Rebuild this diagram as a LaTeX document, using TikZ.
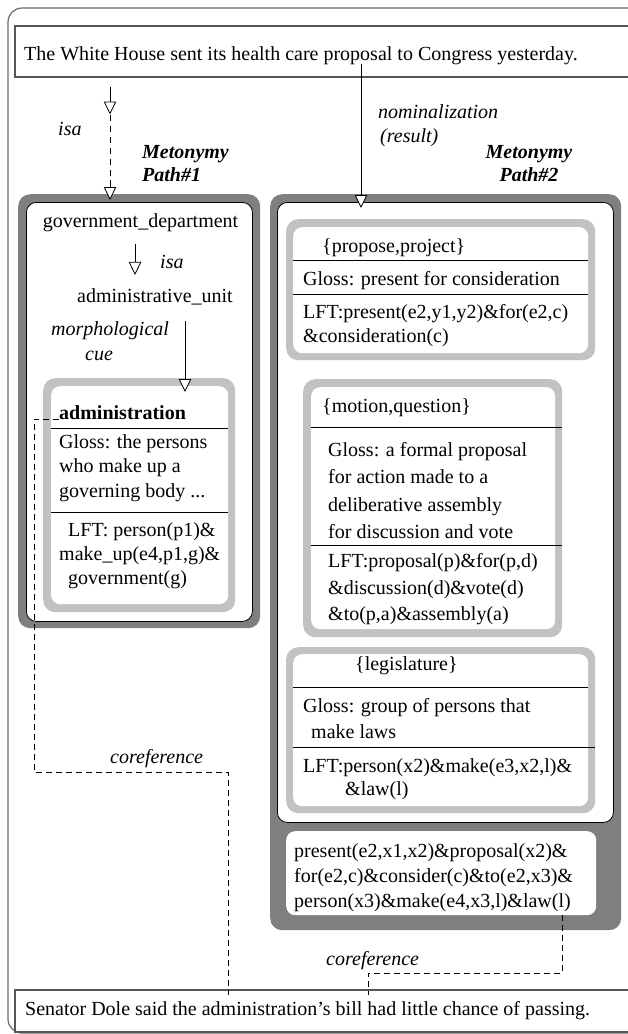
\documentclass[tikz,border=0pt]{standalone}
\usepackage{fontspec}
\setmainfont{Liberation Serif}
\usetikzlibrary{arrows.meta,calc,positioning}
\definecolor{rimdark}{HTML}{7F7F7F}
\definecolor{rimlight}{HTML}{C2C2C2}
\definecolor{framegray}{HTML}{6A6A6A}
\tikzset{%
	outerframe/.style = {draw=framegray, line width=1.2pt, rounded corners=14pt},
	sentbox/.style    = {draw=framegray!80!black, line width=1.5pt, anchor=north west, inner sep=0pt},
	darkrim/.style    = {fill=rimdark, rounded corners=12pt, anchor=north west, inner sep=0pt},
	lightrim/.style   = {fill=rimlight, rounded corners=12pt, anchor=north west, inner sep=0pt},
	pane/.style       = {fill=white, draw=black, line width=0.8pt, rounded corners=10pt, anchor=north west, inner sep=0pt},
	card/.style       = {fill=white, rounded corners=9pt, anchor=north west, inner sep=0pt},
	txt/.style        = {anchor=base west, inner sep=0pt},
	textblock/.style  = {anchor=north west, inner sep=0pt, align=left, font=\fontsize{20}{#1}\selectfont},
	textblock/.default = 24,
	lbl/.style        = {anchor=base west, inner sep=0pt, font=\fontsize{20}{24}\selectfont\itshape},
	metlbl/.style     = {anchor=north west, inner sep=0pt, font=\fontsize{20}{23}\selectfont\bfseries\itshape},
	divider/.style    = {line width=0.8pt},
	isaarrow/.style   = {line width=0.8pt, -{Triangle[fill=white, length=13pt, width=12.5pt, line width=0.8pt]}},
	coref/.style      = {line width=0.8pt, dash pattern=on 6pt off 4pt},
}
\begin{document}
\begin{tikzpicture}[x=1pt, y=-1pt, font=\fontsize{20}{24}\selectfont]
	\useasboundingbox (0,0) rectangle (628,1034);
	\fill[white] (0,0) rectangle (628,1034);
	\clip (0,0) rectangle (628,1034);
	
	% frame and the two sentences
	\draw[outerframe] (8,8) rectangle (690,1033);
	\node[sentbox, minimum width=700pt, minimum height=51pt] (topbox) at (14,25) {};
	\node[txt] (whitehouse) at (24,60) {The White House sent its health care proposal to Congress yesterday.};
	\node[sentbox, minimum width=700pt, minimum height=42pt] (botbox) at (14,989) {};
	\node[txt] (senator) at (25,1015) {Senator Dole said the administration's bill had little chance of passing.};
	
	% metonymy path 1
	\node[darkrim, minimum width=242pt, minimum height=434pt] (path1) at (18,194) {};
	\node[pane, minimum width=226pt, minimum height=419pt] (pane1) at (26,202) {};
	\node[anchor=base, inner sep=0pt] (govdept) at (140.5,227) {government\_department};
	\node[txt] (adminunit) at (77,302) {administrative\_unit};
	\node[lightrim, minimum width=192pt, minimum height=234pt] (admrim) at (43,378) {};
	\node[card, minimum width=177pt, minimum height=218pt] (admcard) at (51,386) {};
	\node[txt, font=\fontsize{20}{24}\selectfont\bfseries] (admname) at (59,419) {administration};
	\draw[divider] ([yshift=-42pt]admcard.north west) -- ([yshift=-42pt]admcard.north east);
	\node[textblock=24.5] (admgloss) at (59,434.4) {Gloss: the persons\\who make up a\\governing body ...};
	\draw[divider] ([yshift=-126pt]admcard.north west) -- ([yshift=-126pt]admcard.north east);
	\node[textblock=24] (admlft) at (59,522.4) {\hspace*{9pt}LFT: person(p1)\&\\make\_up(e4,p1,g)\&\\\hspace*{9pt}government(g)};
	
	% metonymy path 2
	\node[darkrim, minimum width=351pt, minimum height=736pt] (path2) at (270,194) {};
	\node[pane, minimum width=336pt, minimum height=620pt] (pane2) at (277,202) {};
	
	\node[lightrim, minimum width=309pt, minimum height=141pt] (prorim) at (286,219) {};
	\node[card, minimum width=295pt, minimum height=126pt] (procard) at (293,227) {};
	\node[txt] (proname) at (322,252) {\{propose,project\}};
	\draw[divider] ([yshift=-33pt]procard.north west) -- ([yshift=-33pt]procard.north east);
	\node[txt] (progloss) at (303,285) {Gloss: present for consideration};
	\draw[divider] ([yshift=-67pt]procard.north west) -- ([yshift=-67pt]procard.north east);
	\node[textblock=24] (prolft) at (303,304.4) {LFT:present(e2,y1,y2)\&for(e2,c)\\\&consideration(c)};
	
	\node[lightrim, minimum width=259pt, minimum height=258pt] (motrim) at (303,379) {};
	\node[card, minimum width=244pt, minimum height=242pt] (motcard) at (311,387) {};
	\node[txt] (motname) at (322,412) {\{motion,question\}};
	\draw[divider] ([yshift=-40pt]motcard.north west) -- ([yshift=-48pt]motrim.north east);
	\node[textblock=27.3] (motgloss) at (328,442.4) {Gloss: a formal proposal\\for action made to a\\deliberative assembly\\for discussion and vote};
	\draw[divider] ([yshift=-158pt]motcard.north west) -- ([yshift=-166pt]motrim.north east);
	\node[textblock=26.5] (motlft) at (328,553.4) {LFT:proposal(p)\&for(p,d)\\\&discussion(d)\&vote(d)\\\&to(p,a)\&assembly(a)};
	
	\node[lightrim, minimum width=309pt, minimum height=166pt] (legrim) at (286,647) {};
	\node[card, minimum width=295pt, minimum height=152pt] (legcard) at (293,654) {};
	\node[txt] (legname) at (355,670) {\{legislature\}};
	\draw[divider] ([yshift=-33pt]legcard.north west) -- ([yshift=-33pt]legcard.north east);
	\node[textblock=26] (leggloss) at (303,698.4) {Gloss: group of persons that\\\hspace*{8pt}make laws};
	\draw[divider] ([yshift=-93pt]legcard.north west) -- ([yshift=-100pt]legrim.north east);
	\node[textblock=23] (leglft) at (303,758.4) {LFT:person(x2)\&make(e3,x2,l)\&\\\hspace*{42pt}\&law(l)};
	
	\node[card, minimum width=310pt, minimum height=84pt] (result) at (286,831) {};
	\node[textblock=25] (resulttext) at (294,843.4) {present(e2,x1,x2)\&proposal(x2)\&\\for(e2,c)\&consider(c)\&to(e2,x3)\&\\person(x3)\&make(e4,x3,l)\&law(l)};
	
	% labels
	\node[lbl] (isatop) at (58,135) {isa};
	\node[metlbl, align=left] (met1) at (142,145.6) {Metonymy\\Path\#1};
	\node[lbl, anchor=north west, align=left] (nomlbl) at (378,104.3) {nominalization\\\hspace*{2pt}(result)};
	\node[metlbl, anchor=north, align=center] (met2) at (529,145.6) {Metonymy\\Path\#2};
	\node[lbl] (isainner) at (160,268) {isa};
	\node[lbl, anchor=north west, align=left, font=\fontsize{20}{25}\selectfont\itshape] (morph) at (51,321.3) {morphological\\\hspace*{34pt}cue};
	\node[lbl] (coref1) at (110,763) {coreference};
	\node[lbl] (coref2) at (326,965) {coreference};
	
	% connectors
	\draw[isaarrow] ([xshift=96pt,yshift=-9pt]topbox.south west) -- ([xshift=96pt,yshift=-37pt]topbox.south west);
	\draw[dash pattern=on 6pt off 5pt, line width=0.8pt] ([xshift=96pt,yshift=-37pt]topbox.south west) -- ([xshift=92pt,yshift=7pt]path1.north west);
	\draw[isaarrow] ([xshift=92pt,yshift=14pt]path1.north west) -- ([xshift=92pt,yshift=-6pt]path1.north west);
	\draw[isaarrow] ([xshift=347pt,yshift=14pt]topbox.south west) -- ([xshift=91pt,yshift=-14pt]path2.north west);
	\draw[isaarrow] ([xshift=-5.5pt,yshift=-12pt]govdept.south) -- ([xshift=58pt,yshift=13pt]adminunit.north west);
	\draw[isaarrow] ([xshift=108pt,yshift=-16pt]adminunit.south west) -- ([xshift=142pt,yshift=-14pt]admrim.north west);
	
	\draw[coref] (admname.base west) -- ++(-25,0) -- ++(0,353) -| ([xshift=214pt,yshift=-6pt]botbox.north west);
	\draw[coref] ([xshift=276pt]result.south west) -- ++(0,58) -| ([xshift=354pt,yshift=-6pt]botbox.north west);
\end{tikzpicture}
\end{document}
